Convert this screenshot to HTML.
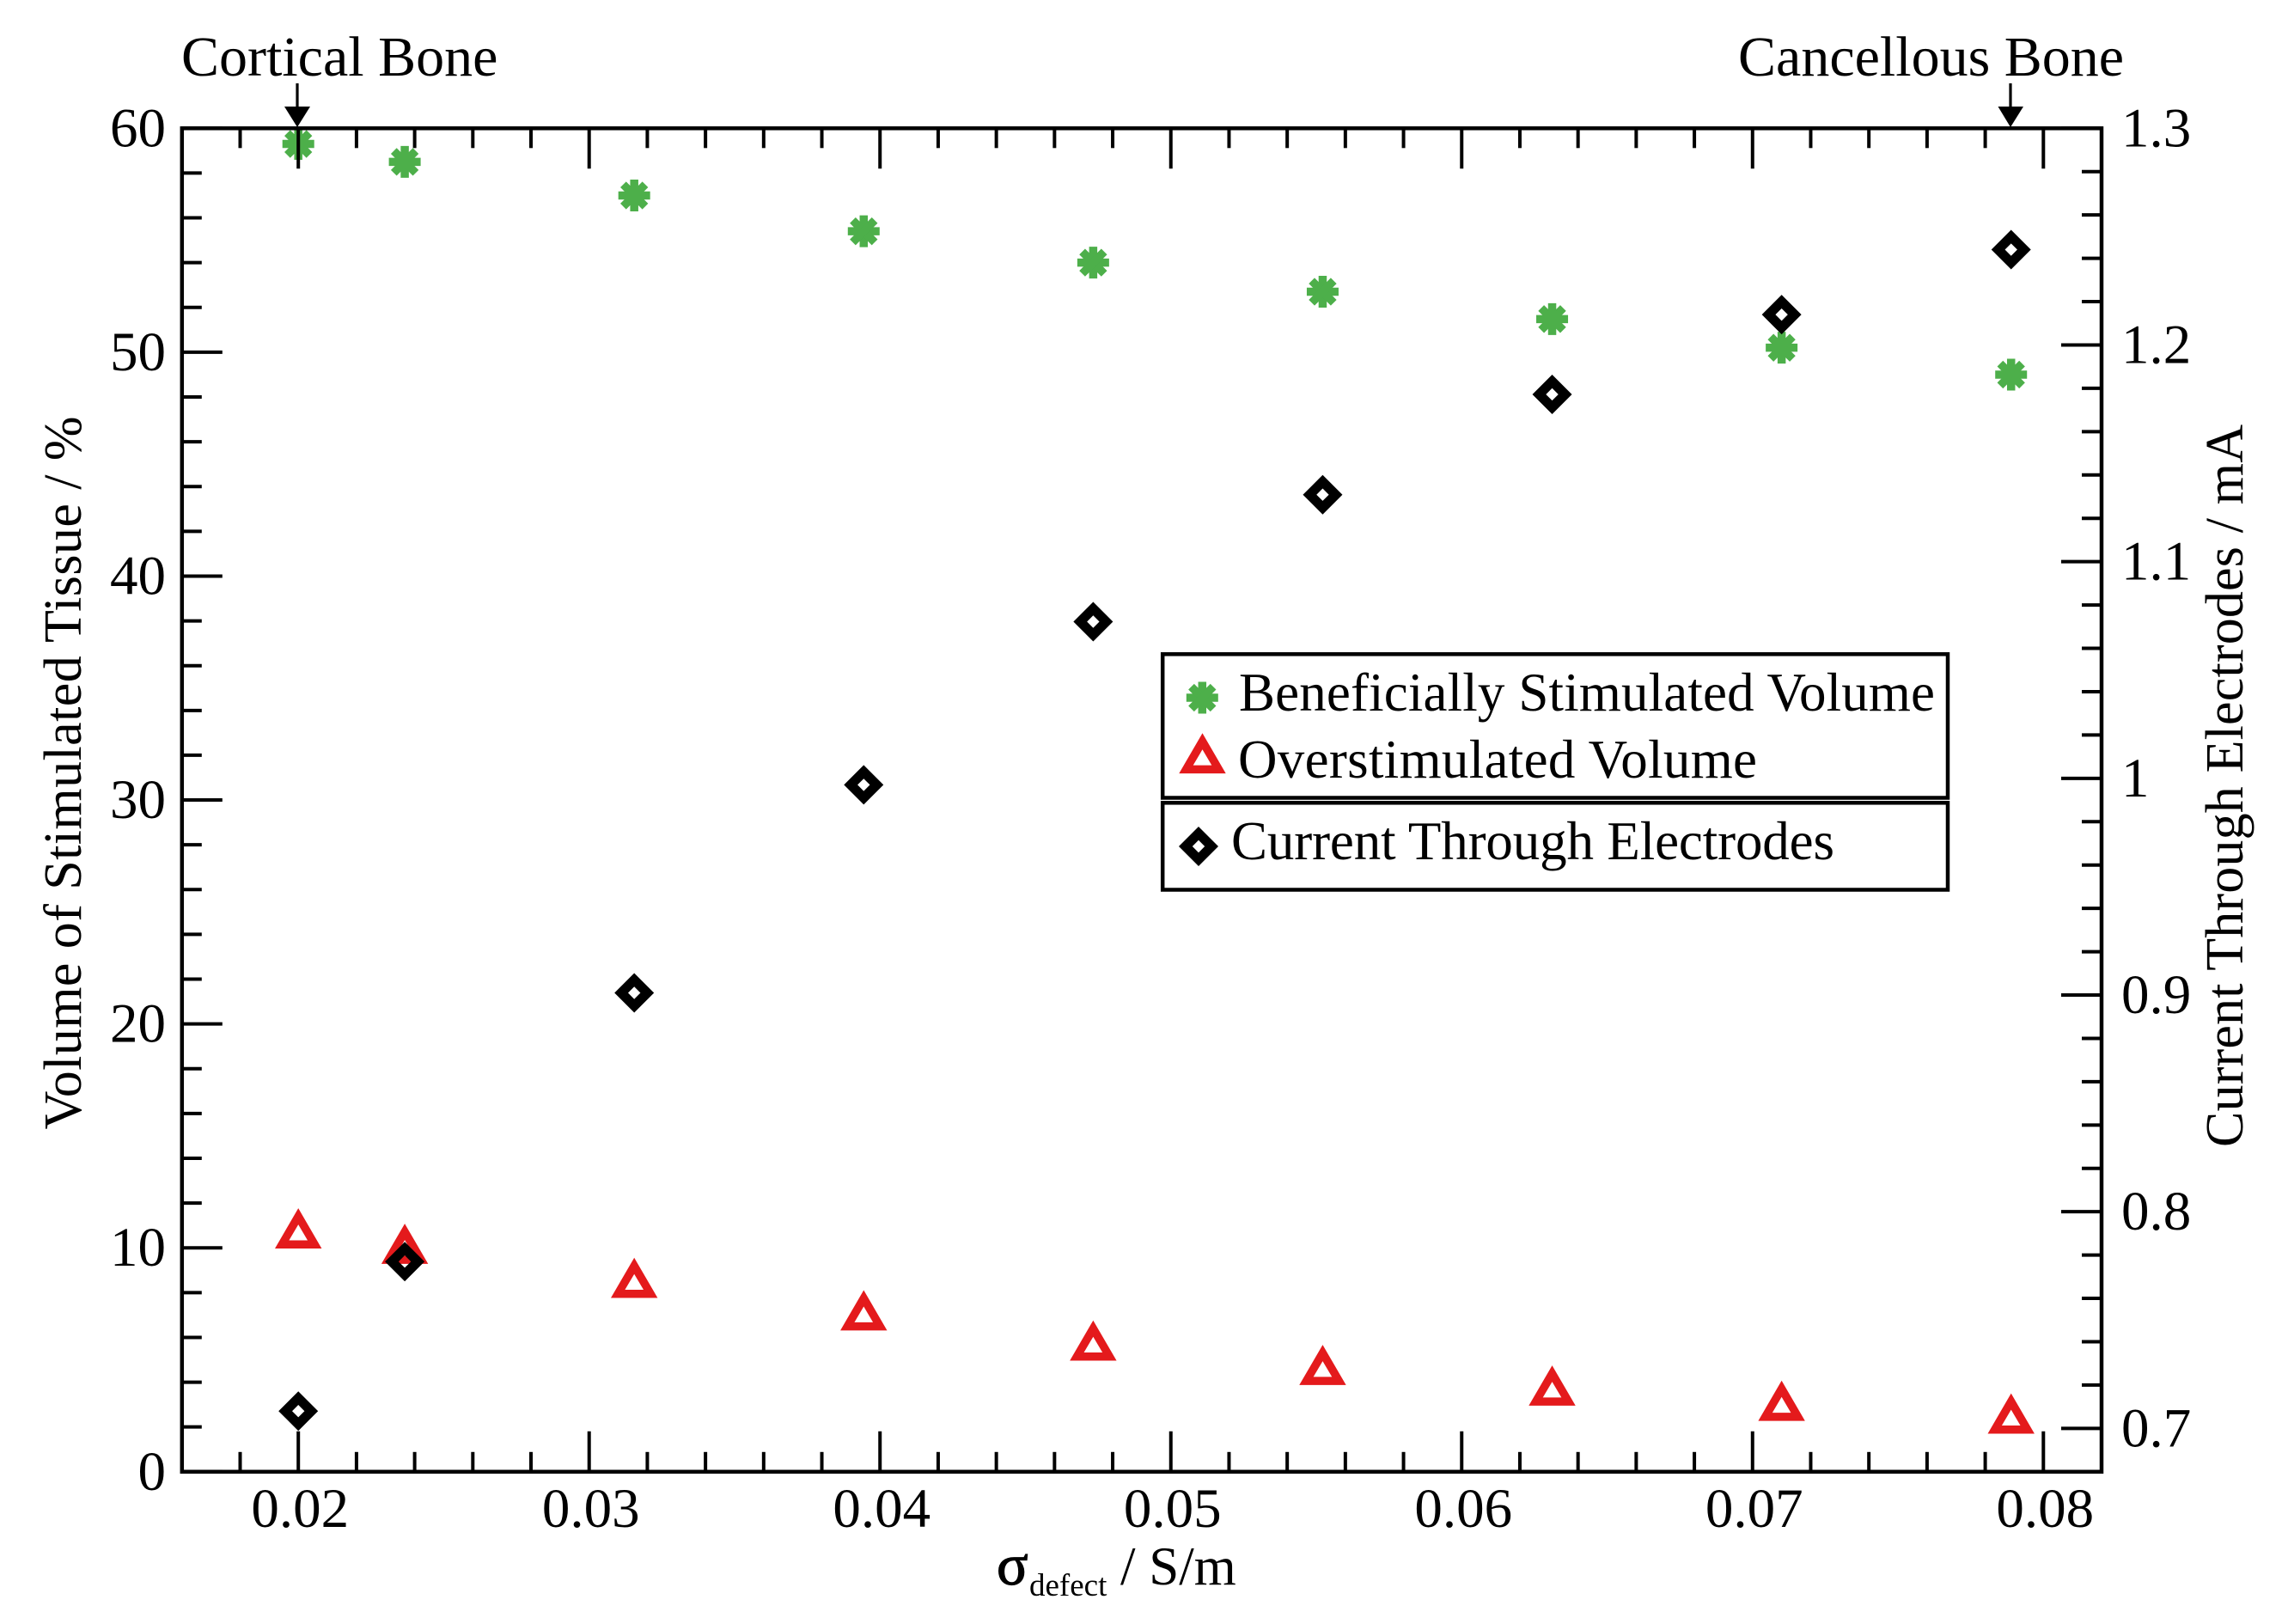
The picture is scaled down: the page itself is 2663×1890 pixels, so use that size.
<!DOCTYPE html>
<html lang="en">
<head>
<meta charset="utf-8">
<title>Stimulated tissue volume and electrode current versus defect conductivity</title>
<style>
html,body{margin:0;padding:0;background:#fff;}
svg{display:block;}
text{font-family:"Liberation Serif","Times New Roman",serif;fill:#000;}
</style>
</head>
<body>
<svg id="chart" xmlns="http://www.w3.org/2000/svg" width="2663" height="1890" viewBox="0 0 2663 1890">
  <rect x="0" y="0" width="2663" height="1890" fill="#fff"/>
  <g id="series-layer"></g>
  <g id="axis-layer"></g>

  <text y="1844" font-size="63"><tspan x="1160" font-size="68" stroke="#000" stroke-width="1.200">σ</tspan><tspan x="1198" y="1857" font-size="37">defect</tspan><tspan x="1304" y="1844">/ S/m</tspan></text>
  <text transform="translate(94 1314.5) rotate(-90)" font-size="62" textLength="830" lengthAdjust="spacing">Volume of Stimulated Tissue / %</text>
  <text transform="translate(2610 1335) rotate(-90)" font-size="62" textLength="841" lengthAdjust="spacing">Current Through Electrodes / mA</text>

  <text x="211" y="88" font-size="66">Cortical Bone</text>
  <g>
    <line x1="346" y1="97" x2="346" y2="126" stroke="#000" stroke-width="3.2"/>
    <polygon points="331,124 361,124 346,148" fill="#000"/>
  </g>
  <text x="2023" y="88" font-size="66">Cancellous Bone</text>
  <g>
    <line x1="2340" y1="97" x2="2340" y2="126" stroke="#000" stroke-width="3.2"/>
    <polygon points="2325.500,124 2355,124 2340,148" fill="#000"/>
  </g>

  <g>
    <rect x="1353.200" y="761.300" width="913.800" height="167.200" fill="none" stroke="#000" stroke-width="4.500"/>
    <g id="legend-green"></g>
    <text x="1442" y="827" font-size="63" textLength="810" lengthAdjust="spacing">Beneficially Stimulated Volume</text>
    <g id="legend-red"></g>
    <text x="1441" y="905" font-size="63" textLength="604" lengthAdjust="spacing">Overstimulated Volume</text>
  </g>
  <g>
    <rect x="1353.200" y="934.300" width="913.800" height="101.200" fill="none" stroke="#000" stroke-width="4.500"/>
    <g id="legend-black"></g>
    <text x="1433" y="1000" font-size="63" textLength="702" lengthAdjust="spacing">Current Through Electrodes</text>
  </g>
</svg>

<script>
// Chart data
const sigmaValues = [0.02, 0.02366, 0.03155, 0.03944, 0.04733, 0.05522, 0.06311, 0.071, 0.07889];
const beneficialVolume = [59.3, 58.5, 57.0, 55.4, 54.0, 52.7, 51.48, 50.2, 49.0];
const overstimulatedVolume = [10.87, 10.18, 8.66, 7.21, 5.86, 4.77, 3.85, 3.17, 2.6];
const electrodeCurrent = [0.708, 0.777, 0.901, 0.997, 1.0723, 1.1309, 1.1772, 1.214, 1.244];
const xMajorTicks = [0.02, 0.03, 0.04, 0.05, 0.06, 0.07, 0.08];
const xTickLabels = ['0.02', '0.03', '0.04', '0.05', '0.06', '0.07', '0.08'];
const xMinorTicks = [0.018, 0.022, 0.024, 0.026, 0.028, 0.032, 0.034, 0.036, 0.038, 0.042, 0.044, 0.046, 0.048, 0.052, 0.054, 0.056, 0.058, 0.062, 0.064, 0.066, 0.068, 0.072, 0.074, 0.076, 0.078];
const leftMajorTicks = [0, 10, 20, 30, 40, 50, 60];
const leftTickLabels = ['0', '10', '20', '30', '40', '50', '60'];
const leftMinorTicks = [2, 4, 6, 8, 12, 14, 16, 18, 22, 24, 26, 28, 32, 34, 36, 38, 42, 44, 46, 48, 52, 54, 56, 58];
const rightMajorTicks = [0.7, 0.8, 0.9, 1.0, 1.1, 1.2, 1.3];
const rightTickLabels = ['0.7', '0.8', '0.9', '1', '1.1', '1.2', '1.3'];
const rightMinorTicks = [0.72, 0.74, 0.76, 0.78, 0.82, 0.84, 0.86, 0.88, 0.92, 0.94, 0.96, 0.98, 1.02, 1.04, 1.06, 1.08, 1.12, 1.14, 1.16, 1.18, 1.22, 1.24, 1.26, 1.28];

// Plot geometry and axis functions
const plotLeft = 211.8, plotRight = 2446, plotTop = 149.3, plotBottom = 1712.8;
const xMin = 0.016, xMax = 0.082, leftMin = 0, leftMax = 60, rightMin = 0.68, rightMax = 1.3;
function xScale(v) { return plotLeft + (v - xMin) / (xMax - xMin) * (plotRight - plotLeft); }
function leftScale(v) { return plotBottom - (v - leftMin) / (leftMax - leftMin) * (plotBottom - plotTop); }
function rightScale(v) { return plotBottom - (v - rightMin) / (rightMax - rightMin) * (plotBottom - plotTop); }

const NS = 'http://www.w3.org/2000/svg';
const seriesLayer = document.getElementById('series-layer');
const axisLayer = document.getElementById('axis-layer');

function drawStar(parent, cx, cy) {
  const g = document.createElementNS(NS, 'g');
  g.setAttribute('stroke', '#4daf4a');
  g.setAttribute('stroke-width', '9.5');
  const r = 18.5, d = 12.8;
  const armX = [r, 0, d, d];
  const armY = [0, r, d, -d];
  for (let i = 0; i < 4; i++) {
    const l = document.createElementNS(NS, 'line');
    l.setAttribute('x1', cx - armX[i]);
    l.setAttribute('y1', cy - armY[i]);
    l.setAttribute('x2', cx + armX[i]);
    l.setAttribute('y2', cy + armY[i]);
    g.appendChild(l);
  }
  parent.appendChild(g);
  return g;
}
function drawTriangle(parent, cx, cy) {
  const p = document.createElementNS(NS, 'path');
  const outer = 'M' + cx + ' ' + (cy - 23.4) + 'L' + (cx + 27.2) + ' ' + (cy + 23.4) + 'L' + (cx - 27.2) + ' ' + (cy + 23.4) + 'Z';
  const inner = 'M' + cx + ' ' + (cy - 4.4) + 'L' + (cx + 10.8) + ' ' + (cy + 13.9) + 'L' + (cx - 10.8) + ' ' + (cy + 13.9) + 'Z';
  p.setAttribute('d', outer + inner);
  p.setAttribute('fill', '#e41a1c');
  p.setAttribute('fill-rule', 'evenodd');
  parent.appendChild(p);
  return p;
}
function drawDiamond(parent, cx, cy) {
  const p = document.createElementNS(NS, 'path');
  const outer = 'M' + cx + ' ' + (cy - 23) + 'L' + (cx + 23) + ' ' + cy + 'L' + cx + ' ' + (cy + 23) + 'L' + (cx - 23) + ' ' + cy + 'Z';
  const inner = 'M' + cx + ' ' + (cy - 7.2) + 'L' + (cx + 7.2) + ' ' + cy + 'L' + cx + ' ' + (cy + 7.2) + 'L' + (cx - 7.2) + ' ' + cy + 'Z';
  p.setAttribute('d', outer + inner);
  p.setAttribute('fill', '#000');
  p.setAttribute('fill-rule', 'evenodd');
  parent.appendChild(p);
  return p;
}

// Series: green first, then red, then black on top
sigmaValues.forEach(function (s, i) {
  const el = drawStar(seriesLayer, xScale(s), leftScale(beneficialVolume[i]));
  
  
});
sigmaValues.forEach(function (s, i) {
  const el = drawTriangle(seriesLayer, xScale(s), leftScale(overstimulatedVolume[i]));
  
  
});
sigmaValues.forEach(function (s, i) {
  const el = drawDiamond(seriesLayer, xScale(s), rightScale(electrodeCurrent[i]));
  
  
});

// Legend markers
drawStar(document.getElementById('legend-green'), 1399.3, 812);
drawTriangle(document.getElementById('legend-red'), 1399.5, 876.7);
drawDiamond(document.getElementById('legend-black'), 1395, 985);

// Axes
function addTick(x1, y1, x2, y2, name) {
  const l = document.createElementNS(NS, 'line');
  l.setAttribute('x1', x1);
  l.setAttribute('y1', y1);
  l.setAttribute('x2', x2);
  l.setAttribute('y2', y2);
  l.setAttribute('stroke', '#000');
  l.setAttribute('stroke-width', '4');
  
  
  axisLayer.appendChild(l);
}
function addLabel(x, y, str, anchor, name) {
  const t = document.createElementNS(NS, 'text');
  t.setAttribute('x', x);
  t.setAttribute('y', y);
  t.setAttribute('font-size', '65');
  t.setAttribute('text-anchor', anchor);
  
  
  t.textContent = str;
  axisLayer.appendChild(t);
}
const majorLen = 47, minorLen = 23;
xMajorTicks.forEach(function (v, i) {
  const x = xScale(v);
  addTick(x, plotBottom, x, plotBottom - majorLen, 'x-major-tick-bottom');
  addTick(x, plotTop, x, plotTop + majorLen, 'x-major-tick-top');
  addLabel(x + 2, 1777, xTickLabels[i], 'middle', 'x-tick-label');
});
xMinorTicks.forEach(function (v) {
  const x = xScale(v);
  addTick(x, plotBottom, x, plotBottom - minorLen, 'x-minor-tick-bottom');
  addTick(x, plotTop, x, plotTop + minorLen, 'x-minor-tick-top');
});
leftMajorTicks.forEach(function (v, i) {
  const y = leftScale(v);
  addTick(plotLeft, y, plotLeft + majorLen, y, 'left-major-tick');
  addLabel(193, y + 21, leftTickLabels[i], 'end', 'left-tick-label');
});
leftMinorTicks.forEach(function (v) {
  const y = leftScale(v);
  addTick(plotLeft, y, plotLeft + minorLen, y, 'left-minor-tick');
});
rightMajorTicks.forEach(function (v, i) {
  const y = rightScale(v);
  addTick(plotRight, y, plotRight - majorLen, y, 'right-major-tick');
  addLabel(2469, y + 21, rightTickLabels[i], 'start', 'right-tick-label');
});
rightMinorTicks.forEach(function (v) {
  const y = rightScale(v);
  addTick(plotRight, y, plotRight - minorLen, y, 'right-minor-tick');
});
const frame = document.createElementNS(NS, 'rect');
frame.setAttribute('x', plotLeft);
frame.setAttribute('y', plotTop);
frame.setAttribute('width', plotRight - plotLeft);
frame.setAttribute('height', plotBottom - plotTop);
frame.setAttribute('fill', 'none');
frame.setAttribute('stroke', '#000');
frame.setAttribute('stroke-width', '4.5');


axisLayer.appendChild(frame);
</script>
</body>
</html>
